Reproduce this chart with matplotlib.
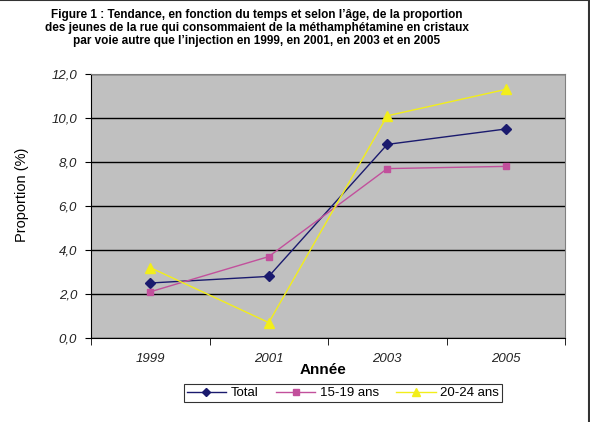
import numpy as np
import matplotlib.pyplot as plt
from matplotlib.ticker import FixedLocator, FuncFormatter

# Données
annees = ["1999", "2001", "2003", "2005"]
total = [2.5, 2.8, 8.8, 9.5]
ans_15_19 = [2.1, 3.7, 7.7, 7.8]
ans_20_24 = [3.2, 0.7, 10.1, 11.3]

plt.rcParams['font.family'] = ['Liberation Sans', 'DejaVu Sans']

fig = plt.figure(figsize=(5.9, 4.22), dpi=100)
W, H = 590, 422
# zone de tracé (pixels): x 91-565, y 74-338
ax = fig.add_axes([91 / W, 1 - 338 / H, (565 - 91) / W, (338 - 74) / H])
ax.set_facecolor("#C0C0C0")

x = np.arange(len(annees))
ax.plot(x, total, color="#1A1A6E", marker="D", markersize=5, lw=1, label="Total")
ax.plot(x, ans_15_19, color="#C2509C", marker="s", markersize=5, lw=1, label="15-19 ans")
ax.plot(x, ans_20_24, color="#F2EE1A", marker="^", markersize=7, lw=1, label="20-24 ans")

ax.set_xlim(-0.5, len(annees) - 0.5)
ax.set_ylim(0, 12)
ax.set_yticks(np.arange(0, 12.1, 2))
ax.yaxis.set_major_formatter(FuncFormatter(lambda v, p: f"{v:.1f}".replace(".", ",")))
ax.yaxis.grid(True, color="black", lw=1)
ax.set_axisbelow(True)

# ticks entre les catégories, étiquettes au centre
ax.set_xticks(x)
ax.set_xticklabels(annees)
ax.xaxis.set_minor_locator(FixedLocator(np.arange(-0.5, len(annees), 1)))
ax.tick_params(axis="x", which="major", length=0, pad=11)
ax.tick_params(axis="x", which="minor", length=5, direction="out", color="black")
ax.tick_params(axis="y", length=4, direction="out", pad=6)
for lab in ax.get_xticklabels() + ax.get_yticklabels():
    lab.set_fontstyle("italic")
    lab.set_fontsize(9.5)
    lab.set_color("#222222")

for s in ["top", "right"]:
    ax.spines[s].set_color("#808080")
for s in ["left", "bottom"]:
    ax.spines[s].set_color("black")

fig.text(257 / W, 1 - 28 / H,
         "Figure 1 : Tendance, en fonction du temps et selon l\u2019âge, de la proportion\n"
         "des jeunes de la rue qui consommaient de la méthamphétamine en cristaux\n"
         "par voie autre que l\u2019injection en 1999, en 2001, en 2003 et en 2005",
         ha="center", va="center", fontsize=8.5, fontweight="bold", linespacing=1.1)
fig.text(22 / W, 1 - 195 / H, "Proportion (%)", rotation=90, ha="center", va="center",
         fontsize=10.5)
fig.text(323 / W, 1 - 370 / H, "Année", ha="center", va="center", fontsize=11,
         fontweight="bold")

leg = fig.legend(loc="center", bbox_to_anchor=(343 / W, 1 - 393 / H), ncol=3,
                 frameon=True, fancybox=False, edgecolor="black", fontsize=9.5,
                 handlelength=3.0, columnspacing=1.3, borderpad=0.2, handletextpad=0.35,
                 markerscale=0.85)
leg.get_frame().set_linewidth(0.8)

# cadre de la figure
fig.add_artist(plt.Line2D([0, 1], [0.999, 0.999], transform=fig.transFigure, color="#333333", lw=1.5))
fig.add_artist(plt.Line2D([588.5 / W, 588.5 / W], [0, 1], transform=fig.transFigure, color="#333333", lw=1.5))

fig.savefig("out.png", dpi=100)
